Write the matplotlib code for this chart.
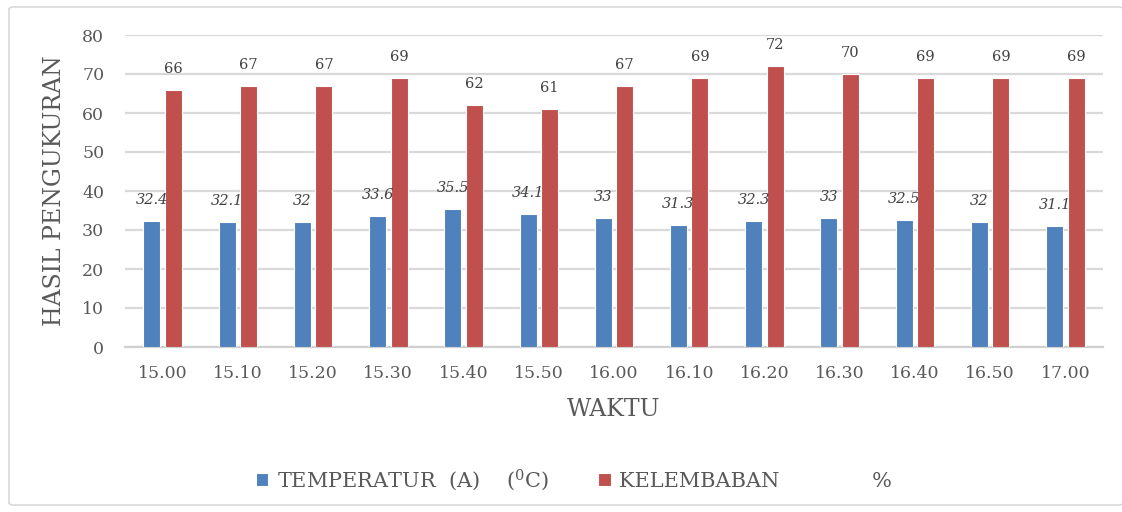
import numpy as np
import matplotlib
matplotlib.use("Agg")
import matplotlib.pyplot as plt
import matplotlib.patches as mpatches

plt.rcParams["font.family"] = ["DejaVu Serif"]
plt.rcParams["mathtext.fontset"] = "dejavuserif"

# ----- data -----------------------------------------------------------------
waktu = ["15.00", "15.10", "15.20", "15.30", "15.40", "15.50", "16.00",
         "16.10", "16.20", "16.30", "16.40", "16.50", "17.00"]
temperatur = [32.4, 32.1, 32, 33.6, 35.5, 34.1, 33, 31.3, 32.3, 33, 32.5, 32, 31.1]
kelembaban = [66, 67, 67, 69, 62, 61, 67, 69, 72, 70, 69, 69, 69]
yticks = [0, 10, 20, 30, 40, 50, 60, 70, 80]

# ----- style ----------------------------------------------------------------
BLUE = "#4f81bd"
RED = "#c0504d"
GRID = "#d9d9d9"
TEXT = "#595959"
LABEL = "#404040"

W, H = 1122, 512
fig = plt.figure(figsize=(W / 100, H / 100), dpi=100, facecolor="white")

# outer chart frame
fig.patches.append(mpatches.FancyBboxPatch(
    (9 / W, 7 / H), (W - 8) / W, (H - 14) / H,
    boxstyle="round,pad=0,rounding_size=0.004",
    transform=fig.transFigure, facecolor="none",
    edgecolor="#d9d9d9", linewidth=1.2))

ax = fig.add_axes([125 / W, (H - 347) / H, (1103 - 125) / W, (347 - 35) / H])

x = np.arange(len(waktu))
bw = 0.226
off = 0.143
b1 = ax.bar(x - off, temperatur, bw, color=BLUE, edgecolor="white",
            linewidth=0.8, zorder=3, label="TEMPERATUR  (A)    ($^{0}$C)")
b2 = ax.bar(x + off, kelembaban, bw, color=RED, edgecolor="white",
            linewidth=0.8, zorder=3, label="KELEMBABAN              %")

for xi, v in zip(x, temperatur):
    ax.annotate(f"{v:g}", (xi - off, v), xytext=(0, 15),
                textcoords="offset points", ha="center", va="center",
                fontsize=10.5, color=LABEL, style="italic")
for xi, v in zip(x, kelembaban):
    ax.annotate(f"{v:g}", (xi + off, v), xytext=(0, 15),
                textcoords="offset points", ha="center", va="center",
                fontsize=10.5, color=LABEL)

ax.set_xlim(-0.5, len(waktu) - 0.5)
ax.set_ylim(0, 80)
ax.set_yticks(yticks)
ax.set_xticks(x)
ax.set_xticklabels(waktu)
ax.tick_params(axis="both", length=0, labelsize=12.5, labelcolor=TEXT)
ax.tick_params(axis="y", pad=15)
ax.tick_params(axis="x", pad=13)
ax.yaxis.grid(True, color=GRID, linewidth=1.6, zorder=0)
ax.set_axisbelow(True)
for name, s in ax.spines.items():
    s.set_visible(name == "bottom")
ax.spines["bottom"].set_color("#d0d0d0")
ax.spines["bottom"].set_linewidth(1.6)

fig.text(55 / W, 1 - 191 / H, "HASIL PENGUKURAN", rotation=90,
         ha="center", va="center", fontsize=17, color=TEXT)
fig.text(614 / W, 1 - 410 / H, "WAKTU", ha="center", va="center",
         fontsize=17, color=TEXT)

leg = fig.legend(handles=[b1, b2], loc="center", ncol=2,
                 bbox_to_anchor=(574 / W, 1 - 480 / H), frameon=False,
                 fontsize=15, handlelength=0.6, handleheight=0.6,
                 handletextpad=0.4, columnspacing=2.4)
for t in leg.get_texts():
    t.set_color(TEXT)

fig.savefig("out.png", dpi=100, facecolor="white")
